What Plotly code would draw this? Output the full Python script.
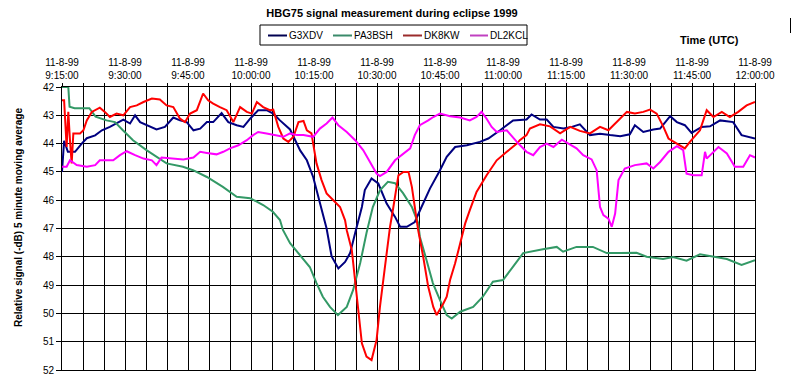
import plotly.graph_objects as go

# minutes after 09:15 UTC, 11-8-1999
g3xdv_t = [0, 0.5, 1.4, 3.1, 4.7, 5.9, 7.9, 9.5, 11.4, 13.0, 14.6, 16.2, 17.4, 18.6, 21.0, 22.5, 24.5, 26.5, 28.1, 29.7,
           31.3, 32.9, 34.5, 36.0, 38.0, 39.6, 41.6, 43.2, 44.8, 46.7, 48.7, 50.3, 51.9, 54.3, 56.7, 58.3, 59.8, 61.4,
           63.0, 64.2, 65.8, 67.4, 68.6, 69.8, 71.4, 72.1, 73.7, 75.3, 77.3, 79.3, 80.5, 82.1, 84.0, 85.6, 87.6, 90.0,
           91.6, 93.6, 96.4, 99.5, 101.5, 104.3, 107.4, 110.6, 111.8, 113.8, 115.4, 117.0, 119.4, 121.4, 123.3, 125.7,
           128.1, 130.5, 132.9, 135.2, 136.4, 138.4, 140.8, 142.4, 144.8, 146.4, 148.3, 149.9, 152.3, 154.3, 156.7,
           159.8, 161.8, 165.0]
g3xdv_v = [45.0, 43.9, 44.29, 44.29, 44.0, 43.81, 43.71, 43.53, 43.41, 43.29, 43.15, 43.29, 43.0, 43.24, 43.41, 43.5,
           43.41, 43.08, 43.18, 43.24, 43.53, 43.47, 43.24, 43.24, 42.92, 43.24, 43.35, 43.41, 43.12, 42.82, 42.82,
           42.94, 43.18, 43.5, 44.24, 44.59, 45.18, 46.12, 47.0, 47.99, 48.41, 48.18, 47.87, 47.16, 46.24, 45.64,
           45.23, 45.41, 46.12, 46.59, 46.94, 46.94, 46.77, 46.24, 45.59, 44.94, 44.47, 44.12, 44.06, 43.94, 43.82,
           43.53, 43.18, 43.15, 42.97, 43.15, 43.15, 43.41, 43.47, 43.41, 43.32, 43.7, 43.65, 43.7, 43.74, 43.67,
           43.35, 43.59, 43.5, 43.47, 43.03, 43.24, 43.35, 43.62, 43.41, 43.39, 43.18, 43.24, 43.7, 43.82]

pa3bsh_t = [0, 1.5, 1.8, 3.0, 6.5, 8.0, 10.6, 12.6, 14.5, 16.9, 20.2, 22.5, 24.9, 28.8, 31.2, 34.5, 38.3, 41.6, 44.8,
            47.9, 50.2, 51.9, 52.6, 54.3, 56.7, 59.0, 60.6, 62.1, 63.8, 65.7, 67.8, 69.3, 71.0, 72.5, 74.0, 75.7, 77.6,
            79.3, 81.2, 83.3, 84.8, 85.2, 86.8, 88.3, 90.0, 91.6, 92.8, 94.8, 97.9, 100.2, 102.6, 105.0, 107.4, 109.8,
            114.5, 117.8, 119.3, 122.5, 126.4, 129.7, 132.9, 136.8, 139.2, 143.1, 145.5, 148.7, 151.9, 155.0, 158.3,
            161.8, 165.0]
pa3bsh_v = [42.0, 42.0, 42.7, 42.75, 42.75, 43.05, 43.18, 43.24, 43.53, 43.88, 44.24, 44.47, 44.7, 44.82, 44.94, 45.18,
            45.53, 45.88, 45.93, 46.17, 46.41, 46.7, 47.05, 47.52, 47.94, 48.36, 48.93, 49.41, 49.77, 50.06, 49.77,
            49.18, 48.22, 47.16, 46.24, 45.65, 45.35, 45.4, 45.75, 46.24, 46.81, 47.29, 48.12, 48.93, 49.53, 50.06,
            50.18, 49.94, 49.77, 49.41, 48.88, 48.82, 48.35, 47.87, 47.73, 47.65, 47.82, 47.65, 47.65, 47.87, 47.87,
            47.86, 48.0, 48.08, 48.01, 48.14, 47.91, 47.98, 48.08, 48.29, 48.12]

dk8kw_t = [0, 0.5, 1.1, 1.5, 1.9, 2.3, 2.7, 4.3, 5.1, 5.9, 7.1, 9.0, 10.2, 11.4, 13.0, 14.6, 16.2, 17.8, 19.4, 21.4,
           23.3, 24.9, 26.5, 28.1, 29.3, 30.5, 32.1, 33.6, 34.8, 36.0, 37.6, 39.2, 40.8, 42.4, 44.0, 45.2, 46.4, 47.9,
           49.5, 50.3, 51.5, 52.7, 53.9, 55.1, 56.3, 57.5, 58.3, 59.4, 59.8, 60.6, 61.8, 63.0, 64.6, 66.2, 67.4, 67.8,
           69.0, 69.8, 70.5, 71.4, 72.5, 73.7, 74.9, 75.7, 76.9, 78.1, 78.9, 80.1, 81.3, 82.5, 83.3, 84.0, 84.8, 86.0,
           87.2, 88.4, 89.2, 90.8, 91.6, 92.4, 93.6, 94.8, 96.0, 97.1, 98.7, 101.1, 103.5, 105.9, 108.3, 109.0, 110.6,
           111.4, 113.8, 116.2, 118.6, 121.0, 123.3, 125.7, 128.1, 130.1, 132.1, 134.5, 136.4, 138.4, 140.0, 141.6,
           143.2, 144.4, 146.4, 148.3, 149.5, 151.9, 153.5, 155.1, 157.1, 159.0, 161.0, 163.0, 165.0]
dk8kw_v = [42.47, 42.47, 44.12, 42.88, 43.88, 44.7, 43.64, 43.64, 43.53, 43.18, 42.88, 42.73, 42.88, 43.06, 42.94, 43.0,
           42.71, 42.65, 42.53, 42.41, 42.44, 42.65, 42.71, 43.12, 43.24, 42.94, 42.82, 42.23, 42.47, 42.59, 42.71,
           42.82, 43.24, 42.71, 42.88, 42.94, 42.53, 42.71, 42.82, 42.8, 43.41, 43.82, 43.94, 43.76, 43.24, 43.2,
           43.53, 43.64, 44.0, 44.7, 45.29, 45.76, 46.0, 46.24, 46.71, 47.06, 47.76, 48.82, 49.88, 51.06, 51.53,
           51.65, 50.94, 49.77, 48.35, 46.94, 46.24, 45.12, 45.0, 45.0, 45.53, 46.24, 47.06, 48.0, 49.06, 49.77,
           50.06, 49.65, 49.41, 48.82, 48.23, 47.53, 46.82, 46.35, 45.71, 45.12, 44.59, 44.29, 44.0, 43.88, 43.7,
           43.47, 43.32, 43.39, 43.64, 43.41, 43.55, 43.64, 43.41, 43.53, 43.24, 42.88, 42.94, 42.88, 42.8, 42.94,
           43.41, 43.82, 44.0, 44.17, 43.94, 43.53, 42.82, 43.06, 42.88, 43.06, 42.88, 42.65, 42.53]

dl2kcl_t = [0, 1.1, 1.9, 3.5, 5.9, 7.9, 9.0, 12.2, 13.8, 15.4, 17.4, 19.4, 21.4, 22.5, 23.7, 26.9, 28.9, 31.3, 32.9,
            34.5, 36.8, 38.4, 40.0, 42.0, 44.0, 45.5, 46.7, 48.7, 51.1, 52.7, 54.3, 55.9, 57.5, 59.8, 61.4, 63.0, 64.4,
            65.8, 67.8, 69.8, 71.7, 73.3, 74.9, 75.7, 77.3, 79.3, 81.3, 82.9, 84.0, 85.2, 87.2, 88.4, 90.0, 92.4, 94.8,
            97.1, 98.7, 99.9, 101.1, 102.3, 103.5, 105.9, 108.3, 110.6, 112.2, 113.8, 115.4, 117.0, 119.0, 120.5,
            122.5, 124.1, 126.1, 127.3, 128.1, 128.9, 130.1, 130.9, 131.7, 132.5, 134.0, 136.4, 139.2, 140.8, 142.4,
            144.4, 146.4, 147.9, 148.7, 150.3, 152.3, 153.1, 153.5, 156.3, 158.3, 160.2, 162.2, 163.8, 165.0]
dl2kcl_v = [44.82, 44.82, 44.59, 44.76, 44.82, 44.76, 44.59, 44.59, 44.41, 44.27, 44.41, 44.53, 44.59, 44.76, 44.49,
            44.53, 44.56, 44.49, 44.29, 44.33, 44.38, 44.29, 44.17, 44.06, 43.88, 43.7, 43.59, 43.64, 43.7, 43.76,
            43.64, 43.7, 43.7, 43.76, 43.47, 43.29, 43.08, 43.35, 43.59, 43.88, 44.23, 44.65, 45.06, 45.15, 45.0,
            44.59, 44.35, 44.17, 43.7, 43.35, 43.18, 43.06, 42.94, 43.03, 43.08, 43.18, 43.06, 42.88, 43.12, 43.41,
            43.59, 43.53, 43.94, 44.29, 44.41, 44.12, 44.0, 44.12, 43.86, 44.0, 44.17, 44.41, 44.56, 44.94, 46.24,
            46.53, 46.65, 46.94, 46.47, 45.29, 44.88, 44.76, 44.7, 44.88, 44.65, 44.29, 44.09, 44.23, 45.06, 45.12,
            45.12, 44.29, 44.53, 44.12, 44.35, 44.82, 44.82, 44.41, 44.49]

series_names = ["G3XDV", "PA3BSH", "DK8KW", "DL2KCL"]
series_colors = ["#000080", "#339966", "#FF0000", "#FF00FF"]
legend_colors = ["#000050", "#3A8A6A", "#9A2B2B", "#C040C0"]

tick_minutes = list(range(0, 166, 5))
label_times = ["9:15:00", "9:30:00", "9:45:00", "10:00:00", "10:15:00", "10:30:00", "10:45:00",
               "11:00:00", "11:15:00", "11:30:00", "11:45:00", "12:00:00"]
tick_text = []
for m in tick_minutes:
    if m % 15 == 0:
        tick_text.append("11-8-99<br>" + label_times[m // 15])
    else:
        tick_text.append("")

y_ticks = list(range(42, 53))

FONT = "Liberation Sans, Arial, sans-serif"

# plot area in pixels (for placing decorations)
L, R, T, B = 62, 755, 87, 370


def px(x):
    return (x - L) / (R - L)


def py(y):
    return (B - y) / (B - T)


fig = go.Figure()
for name, color, t, v in zip(series_names, series_colors,
                             [g3xdv_t, pa3bsh_t, dk8kw_t, dl2kcl_t],
                             [g3xdv_v, pa3bsh_v, dk8kw_v, dl2kcl_v]):
    fig.add_trace(go.Scatter(x=t, y=v, mode="lines", name=name,
                             line=dict(color=color, width=2), showlegend=False))

# hand-drawn legend box (matches the compact Excel legend)
shapes = [dict(type="rect", xref="paper", yref="paper", x0=px(260), x1=px(527), y0=py(45), y1=py(25),
               line=dict(color="black", width=1), fillcolor="white", layer="above"),
          dict(type="line", xref="paper", yref="paper", x0=px(790.5), x1=px(790.5), y0=py(33), y1=py(18),
               line=dict(color="black", width=1))]
annotations = []
glyph_x = [(268, 287), (333, 352), (403, 422), (470, 488)]
for (gx0, gx1), name, col in zip(glyph_x, series_names, legend_colors):
    shapes.append(dict(type="line", xref="paper", yref="paper", x0=px(gx0), x1=px(gx1),
                       y0=py(35.5), y1=py(35.5), line=dict(color=col, width=2), layer="above"))
    annotations.append(dict(text=name, xref="paper", yref="paper", x=px(gx1), y=py(35),
                            xanchor="left", yanchor="middle", showarrow=False,
                            font=dict(family=FONT, size=10, color="black")))

annotations += [
    dict(text="<b>Time (UTC)</b>", xref="paper", yref="paper",
         x=px(709), y=py(40), showarrow=False,
         xanchor="center", yanchor="middle", font=dict(family=FONT, size=11)),
    dict(text="<b>Relative signal (-dB) 5 minute moving average</b>", xref="paper", yref="paper",
         x=px(18), y=py(218), showarrow=False, textangle=-90,
         xanchor="center", yanchor="middle", font=dict(family=FONT, size=10)),
]

fig.update_layout(
    width=792, height=387,
    margin=dict(l=L, r=792 - R, t=T, b=387 - B),
    paper_bgcolor="white", plot_bgcolor="white",
    font=dict(family=FONT, size=10, color="black"),
    title=dict(text="<b>HBG75 signal measurement during eclipse 1999</b>",
               x=392 / 792, xanchor="center", xref="container",
               y=1 - 13 / 387, yanchor="middle", yref="container",
               font=dict(family=FONT, size=11, color="black")),
    showlegend=False,
    hovermode=False,
    xaxis=dict(range=[0, 165], side="top", tickmode="array", tickvals=tick_minutes,
               ticktext=tick_text, showgrid=True, gridcolor="black", gridwidth=1,
               showline=True, linecolor="black", linewidth=1, mirror=True,
               ticks="outside", ticklen=3, tickcolor="black", zeroline=False,
               tickfont=dict(family=FONT, size=10)),
    yaxis=dict(range=[52, 42], tickmode="array", tickvals=y_ticks,
               showgrid=True, gridcolor="black", gridwidth=1,
               showline=True, linecolor="black", linewidth=1, mirror=True,
               ticks="outside", ticklen=5, tickcolor="black", zeroline=False,
               tickfont=dict(family=FONT, size=10)),
    shapes=shapes,
    annotations=annotations,
)

fig.write_html("out.html", config={"displayModeBar": False},
               post_script="document.body.style.margin='0px';")
